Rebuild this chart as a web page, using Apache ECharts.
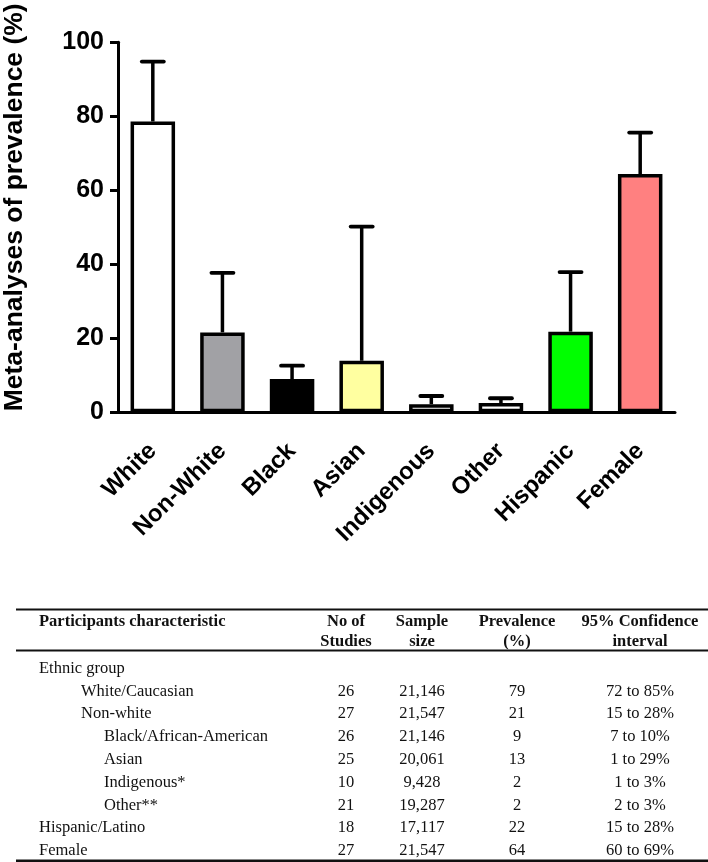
<!DOCTYPE html>
<html>
<head>
<meta charset="utf-8">
<script src="https://cdn.jsdelivr.net/npm/echarts@6/dist/echarts.min.js"></script>
<style>
html,body{margin:0;padding:0;background:#fff;}
#chart{width:708px;height:862px;}
</style>
</head>
<body>
<div id="chart"></div>
<script>
// ---- Chart data ----
const categories = ['White', 'Non-White', 'Black', 'Asian', 'Indigenous', 'Other', 'Hispanic', 'Female'];
const prevalence = [78.6, 21.6, 9.0, 13.9, 2.2, 2.5, 21.8, 64.4];
const errorTop = [94.8, 37.7, 12.6, 50.2, 4.4, 3.8, 37.9, 75.6];
const barColors = ['#ffffff', '#a1a1a5', '#000000', '#ffffa0', '#ffffff', '#ffffff', '#00ff00', '#ff8080'];

// ---- Table data ----
const tableHeadLine1 = ['Participants characteristic', 'No of', 'Sample', 'Prevalence', '95% Confidence'];
const tableHeadLine2 = ['', 'Studies', 'size', '(%)', 'interval'];
const rowLabels = ['Ethnic group', 'White/Caucasian', 'Non-white', 'Black/African-American', 'Asian', 'Indigenous*', 'Other**', 'Hispanic/Latino', 'Female'];
const rowLevels = [0, 1, 1, 2, 2, 2, 2, 0, 0];
const rowStudies = ['', '26', '27', '26', '25', '10', '21', '18', '27'];
const rowSample = ['', '21,146', '21,547', '21,146', '20,061', '9,428', '19,287', '17,117', '21,547'];
const rowPrevalence = ['', '79', '21', '9', '13', '2', '2', '22', '64'];
const rowCI = ['', '72 to 85%', '15 to 28%', '7 to 10%', '1 to 29%', '1 to 3%', '2 to 3%', '15 to 28%', '60 to 69%'];

const chart = echarts.init(document.getElementById('chart'), null, {renderer: 'canvas'});

const sans = 'Liberation Sans, Arial, sans-serif';
const serif = 'Liberation Serif, Times New Roman, serif';

// table layout
const colX = [39, 346, 422, 517, 640];
const levelX = [39, 81, 104];
const tSize = 16.5;
const graphics = [];
graphics.push({type: 'rect', shape: {x: 16, y: 608.5, width: 692, height: 2}, style: {fill: '#111'}});
graphics.push({type: 'rect', shape: {x: 16, y: 649.5, width: 692, height: 2}, style: {fill: '#111'}});
graphics.push({type: 'rect', shape: {x: 16, y: 859.5, width: 692, height: 3}, style: {fill: '#111'}});
tableHeadLine1.forEach((t, j) => {
  graphics.push({type: 'text', style: {text: t, x: colX[j], y: 622, font: 'bold ' + tSize + 'px ' + serif,
    textAlign: j === 0 ? 'left' : 'center', textVerticalAlign: 'middle', fill: '#111'}});
});
tableHeadLine2.forEach((t, j) => {
  if (!t) return;
  graphics.push({type: 'text', style: {text: t, x: colX[j], y: 641.5, font: 'bold ' + tSize + 'px ' + serif,
    textAlign: 'center', textVerticalAlign: 'middle', fill: '#111'}});
});
rowLabels.forEach((lab, i) => {
  const y = 668.5 + i * 22.8;
  graphics.push({type: 'text', style: {text: lab, x: levelX[rowLevels[i]], y: y, font: tSize + 'px ' + serif,
    textAlign: 'left', textVerticalAlign: 'middle', fill: '#111'}});
  [rowStudies[i], rowSample[i], rowPrevalence[i], rowCI[i]].forEach((t, j) => {
    if (!t) return;
    graphics.push({type: 'text', style: {text: t, x: colX[j + 1], y: y, font: tSize + 'px ' + serif,
      textAlign: 'center', textVerticalAlign: 'middle', fill: '#111'}});
  });
});

const option = {
  animation: false,
  backgroundColor: '#ffffff',
  grid: {left: 118, right: 33, top: 42.3, bottom: 449.7, containLabel: false, outerBoundsMode: 'none'},
  xAxis: {
    type: 'category',
    data: categories,
    axisLine: {lineStyle: {color: '#000', width: 3}},
    axisTick: {alignWithLabel: true, length: 8, lineStyle: {color: '#000', width: 3}},
    axisLabel: {rotate: 45, margin: 35, fontFamily: sans, fontWeight: 'bold', fontSize: 24, color: '#000', interval: 0}
  },
  yAxis: {
    type: 'value',
    min: 0, max: 100, interval: 20,
    name: 'Meta-analyses of prevalence (%)',
    nameLocation: 'middle',
    nameRotate: 90,
    nameGap: 90,
    nameTextStyle: {fontFamily: sans, fontWeight: 'bold', fontSize: 26.5, color: '#000', padding: [0, 0, 0, 40]},
    splitLine: {show: false},
    axisLine: {show: true, lineStyle: {color: '#000', width: 3}},
    axisTick: {show: true, length: 8, lineStyle: {color: '#000', width: 3}},
    axisLabel: {margin: 14, fontFamily: sans, fontWeight: 'bold', fontSize: 25, color: '#000'}
  },
  series: [
    {
      type: 'bar',
      barWidth: 44.5,
      data: prevalence.map((v, i) => ({value: v, itemStyle: {color: barColors[i], borderColor: '#000', borderWidth: 3.5}})),
      z: 2
    },
    {
      type: 'custom',
      z: 3,
      data: categories.map((c, i) => [i, prevalence[i], errorTop[i]]),
      encode: {x: 0, y: 2},
      renderItem: function (params, api) {
        const i = api.value(0);
        const base = api.coord([i, api.value(1)]);
        const top = api.coord([i, api.value(2)]);
        const half = 11;
        return {
          type: 'group',
          children: [
            {type: 'line', shape: {x1: base[0], y1: base[1], x2: top[0], y2: top[1]}, style: {stroke: '#000', lineWidth: 3.5}},
            {type: 'line', shape: {x1: top[0] - half, y1: top[1], x2: top[0] + half, y2: top[1]}, style: {stroke: '#000', lineWidth: 3.8, lineCap: 'round'}}
          ]
        };
      }
    }
  ],
  graphic: graphics
};
chart.setOption(option);
</script>
</body>
</html>
